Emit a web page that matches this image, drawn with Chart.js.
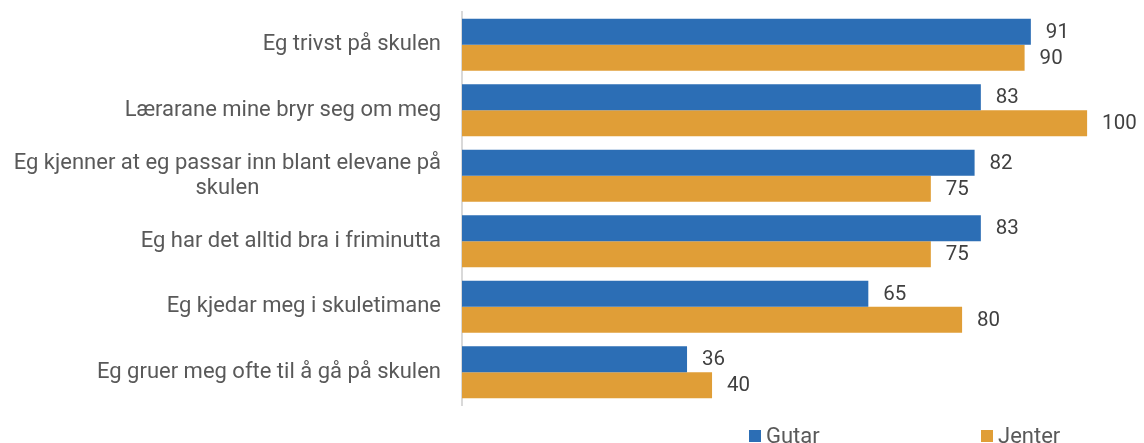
<!DOCTYPE html>
<html>
<head>
<meta charset="utf-8">
<script src="https://cdn.jsdelivr.net/npm/chart.js@4.4.1/dist/chart.umd.min.js"></script>
<style>
  html, body { margin: 0; padding: 0; background: #fff; }
  #wrap { width: 1144px; height: 443px; }
</style>
</head>
<body>
<div id="wrap"><canvas id="chart" width="1144" height="443"></canvas></div>
<script>
// Elevundersøkinga — trivsel, gutar mot jenter (prosent)
const categories = [
  ['Eg trivst på skulen'],
  ['Lærarane mine bryr seg om meg'],
  ['Eg kjenner at eg passar inn blant elevane på', 'skulen'],
  ['Eg har det alltid bra i friminutta'],
  ['Eg kjedar meg i skuletimane'],
  ['Eg gruer meg ofte til å gå på skulen']
];
const seriesNames = ['Gutar', 'Jenter'];
const gutar = [91, 83, 82, 83, 65, 36];
const jenter = [90, 100, 75, 75, 80, 40];

const BLUE = '#2c6eb5';
const ORANGE = '#e09e37';
const FONT = '22px Roboto, sans-serif';
const VALUE_FONT = '20.5px Roboto, sans-serif';

// category labels, right aligned; wrapped lines centred on their own block
const catLabels = {
  id: 'catLabels',
  afterDraw(chart) {
    const { ctx, scales: { y } } = chart;
    ctx.save();
    ctx.font = FONT;
    ctx.fillStyle = '#595959';
    ctx.textBaseline = 'middle';
    ctx.textAlign = 'center';
    const right = chart.chartArea.left - 21;
    const lh = 25;
    categories.forEach((lines, i) => {
      const cy = y.getPixelForTick(i);
      const widest = Math.max(...lines.map(l => ctx.measureText(l).width));
      const cx = right - widest / 2;
      lines.forEach((l, j) => {
        ctx.fillText(l, cx, cy + (j - (lines.length - 1) / 2) * lh);
      });
    });
    ctx.restore();
  }
};

// value at end of each bar
const valueLabels = {
  id: 'valueLabels',
  afterDatasetsDraw(chart) {
    const { ctx } = chart;
    ctx.save();
    ctx.font = VALUE_FONT;
    ctx.fillStyle = '#404040';
    ctx.textBaseline = 'middle';
    ctx.textAlign = 'left';
    chart.data.datasets.forEach((ds, di) => {
      chart.getDatasetMeta(di).data.forEach((bar, i) => {
        ctx.fillText(ds.data[i], bar.x + 15, bar.y + 1);
      });
    });
    ctx.restore();
  }
};

// legend along the bottom edge
const bottomLegend = {
  id: 'bottomLegend',
  afterDraw(chart) {
    const { ctx } = chart;
    const xs = [749, 981];
    ctx.save();
    ctx.font = FONT;
    ctx.textBaseline = 'alphabetic';
    ctx.textAlign = 'left';
    chart.data.datasets.forEach((ds, i) => {
      ctx.fillStyle = ds.backgroundColor;
      ctx.fillRect(xs[i], 430, 12, 12);
      ctx.fillStyle = '#595959';
      ctx.fillText(ds.label, xs[i] + 17, 443);
    });
    ctx.restore();
  }
};

new Chart(document.getElementById('chart'), {
  type: 'bar',
  data: {
    labels: categories,
    datasets: [
      { label: seriesNames[0], data: gutar, backgroundColor: BLUE },
      { label: seriesNames[1], data: jenter, backgroundColor: ORANGE }
    ]
  },
  options: {
    indexAxis: 'y',
    responsive: false,
    animation: false,
    layout: { padding: { top: 12, right: 5, bottom: 38, left: 0 } },
    datasets: { bar: { categoryPercentage: 0.794, barPercentage: 1 } },
    plugins: { legend: { display: false }, tooltip: { enabled: false } },
    scales: {
      x: { display: false, min: 0, max: 108.3 },
      y: {
        ticks: { display: false },
        grid: { display: false },
        border: { display: true, color: '#d9d9d9', width: 2 },
        afterFit(scale) { scale.width = 462; }
      }
    }
  },
  plugins: [catLabels, valueLabels, bottomLegend]
});
</script>
</body>
</html>
